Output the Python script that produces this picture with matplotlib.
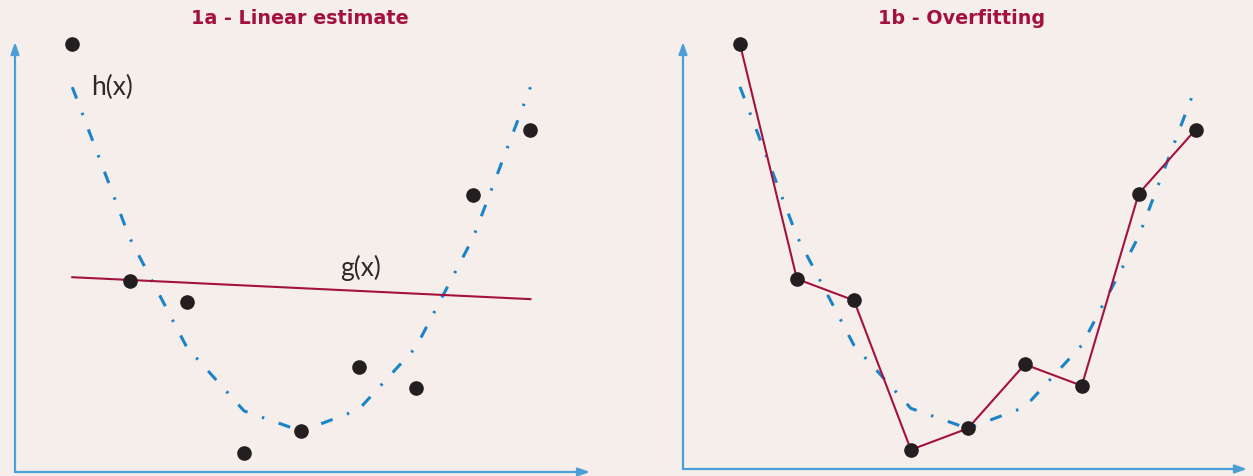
import matplotlib
matplotlib.use("Agg")
import matplotlib.pyplot as plt

# Data
x_pts = [1, 2, 3, 4, 5, 6, 7, 8, 9]
y_pts = [9.95, 4.45, 3.95, 0.45, 0.95, 2.45, 1.95, 6.45, 7.95]
h_vals = [8.95, 5.45, 2.9, 1.42, 0.95, 1.45, 2.9, 5.45, 8.95]
g_x = [1, 9]
g_vals = [4.53, 4.02]

titles = ["1a - Linear estimate", "1b - Overfitting"]

bg = "#f6eeeb"
blue = "#1a84c7"
axis_blue = "#4b9fd6"
crimson = "#a3123f"
dot = "#231f20"
dashdot = (0, (4, 5, 0.8, 5))

W, H = 1253, 476
fig = plt.figure(figsize=(W / 100, H / 100), dpi=100, facecolor=bg)

# axes boxes in pixels: (left, bottom_y, right, top_y)
boxes = [(15, 472, 590, 42), (683, 469, 1247, 42)]
xmaxes = [10.04, 9.9]

axes = []
for (l, b, r, t), xm in zip(boxes, xmaxes):
    ax = fig.add_axes([l / W, (H - b) / H, (r - l) / W, (b - t) / H])
    ax.set_facecolor("none")
    ax.set_xlim(0, xm)
    ax.set_ylim(0, 10)
    for s in ax.spines.values():
        s.set_visible(False)
    ax.set_xticks([])
    ax.set_yticks([])
    # arrows for axes
    for tip in [(1, 0), (0, 1)]:
        ax.annotate("", xy=tip, xytext=(0, 0), xycoords="axes fraction",
                    arrowprops=dict(arrowstyle="-|>,head_length=0.7,head_width=0.25",
                                    color=axis_blue, lw=1.6, shrinkA=0, shrinkB=0))
    axes.append(ax)

ax1, ax2 = axes

# 1a
ax1.plot(x_pts, h_vals, color=blue, lw=2.2, linestyle=dashdot, clip_on=False)
ax1.plot(g_x, g_vals, color=crimson, lw=1.5, clip_on=False)
ax1.plot(x_pts, y_pts, "o", color=dot, ms=9.5, clip_on=False, zorder=5)
ax1.text(1.33, 8.95, "h(x)", fontsize=19, color="#2a2a2a", va="center", ha="left",
         family="Lato")
ax1.text(5.68, 4.75, "g(x)", fontsize=19, color="#2a2a2a", va="center", ha="left",
         family="Lato")

# 1b
ax2.plot(x_pts, h_vals, color=blue, lw=2.2, linestyle=dashdot, clip_on=False)
ax2.plot(x_pts, y_pts, color=crimson, lw=1.5, clip_on=False)
ax2.plot(x_pts, y_pts, "o", color=dot, ms=9.5, clip_on=False, zorder=5)

for cx, t in zip([300, 962], titles):
    fig.text(cx / W, 1 - 19 / H, t, color=crimson, fontsize=13.8,
             fontweight="bold", ha="center", va="center")

fig.savefig("out.png", dpi=100, facecolor=bg)
